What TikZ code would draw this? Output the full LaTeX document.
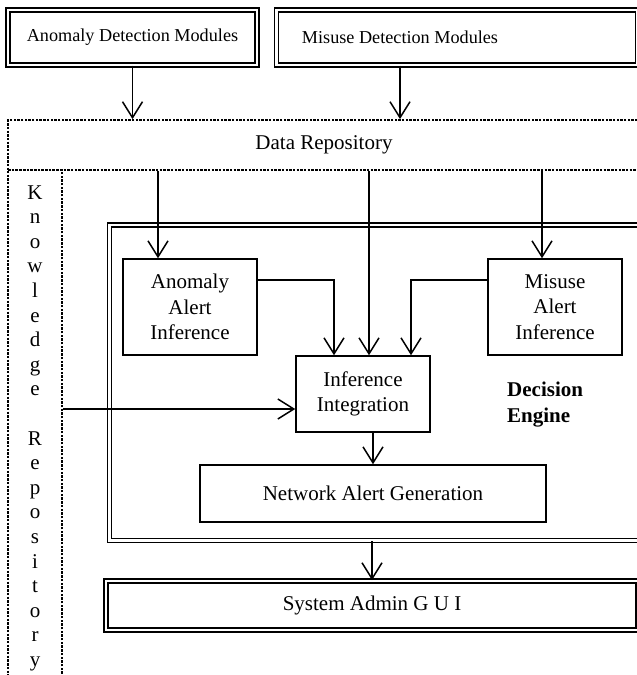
\documentclass[tikz,border=0pt]{standalone}
\usepackage{fontspec}
\setmainfont{Liberation Serif}
\usetikzlibrary{arrows.meta,calc,positioning}

\begin{document}
\begin{tikzpicture}[x=1pt,y=-1pt,
  lbl/.style={font=\fontsize{21}{25.5}\selectfont},
  toplbl/.style={font=\fontsize{18.2}{22}\selectfont},
  box/.style={draw, line width=1.5pt, align=center, inner sep=0pt, lbl},
  dblbox/.style={box, double, line width=1.7pt, double distance=2.3pt},
  dotbox/.style={draw, line width=1.8pt, dash pattern=on 2.4pt off 1.3pt, inner sep=0pt, lbl},
  letter/.style={lbl, anchor=base, inner sep=0pt},
  arr/.style={line width=1.5pt, -{Straight Barb[length=16pt,width=20pt]}}]
  \useasboundingbox (0,0) rectangle (637,675);
  \clip (0,0) rectangle (637,675);

  \node[dblbox, toplbl, minimum width=249pt, minimum height=54.5pt] (anodet) at (132.5,37.5) {Anomaly Detection Modules};
  \node[dblbox, minimum width=361pt, minimum height=54.5pt] (misdet) at (457,37.5) {};
  \node[toplbl] (misdettxt) at (400,37.5) {Misuse Detection Modules};
  \node[dotbox, minimum width=632pt, minimum height=50pt] (datarepo) at (324,145) {Data Repository};
  \node[dotbox, minimum width=54pt, minimum height=520pt] (knowrepo) at (35,430) {};
  \foreach \ch [count=\i from 0] in {K,n,o,w,l,e,d,g,e,{},R,e,p,o,s,i,t,o,r,y}
    \node[letter] (kr-\i) at (35,{199+24.6*\i}) {\ch};

  \node[dblbox, minimum width=590pt, minimum height=315.5pt] (engine) at (404.5,382.75) {};
  \node[lbl, font=\fontsize{21}{26}\selectfont\bfseries, align=left, anchor=west, inner sep=0pt] (enginelbl) at (507,405) {Decision\\Engine};
  \node[box, minimum width=134pt, minimum height=96pt] (anoalert) at (190,307) {Anomaly\\Alert\\Inference};
  \node[box, minimum width=134pt, minimum height=96pt] (misalert) at (555,307) {Misuse\\Alert\\Inference};
  \node[box, minimum width=134pt, minimum height=76pt] (integ) at (363,394) {Inference\\Integration};
  \node[box, minimum width=346pt, minimum height=57pt] (netgen) at (373,493.5) {Network Alert Generation};
  \node[dblbox, minimum width=532pt, minimum height=49pt] (sysgui) at (372,605.5) {System Admin G U I};

  \coordinate (anoin) at ([xshift=-32pt]anoalert.north);
  \coordinate (misin) at ([xshift=-13pt]misalert.north);
  \coordinate (intin) at ([xshift=6pt]integ.north);
  \coordinate (kin) at ([yshift=-15pt]integ.west);

  \draw[arr] (anodet.south) -- (anodet.south |- datarepo.north);
  \draw[arr] (misdettxt |- misdet.south) -- (misdettxt |- datarepo.north);
  \draw[arr] (datarepo.south -| anoin) -- (anoin);
  \draw[arr] (datarepo.south -| intin) -- (intin);
  \draw[arr] (datarepo.south -| misin) -- (misin);
  \draw[arr] ([yshift=27pt]anoalert.east) -| ([xshift=-29pt]integ.north);
  \draw[arr] ([yshift=27pt]misalert.west) -| ([xshift=48pt]integ.north);
  \draw[arr] (knowrepo.east |- kin) -- (kin);
  \draw[arr] (integ.south -| netgen.north) -- (netgen.north);
  \draw[arr] (engine.south -| sysgui.north) -- (sysgui.north);
\end{tikzpicture}
\end{document}
